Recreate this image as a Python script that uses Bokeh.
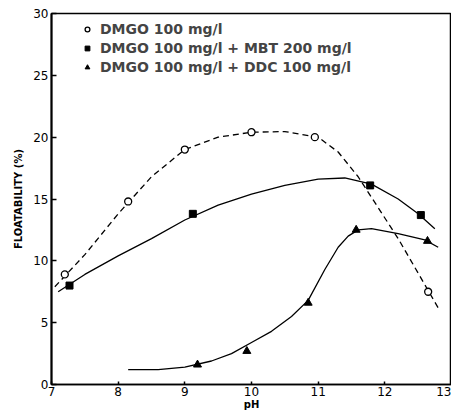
from bokeh.plotting import figure
from bokeh.models import Legend, LegendItem, Range1d, FixedTicker
from bokeh.embed import file_html
from bokeh.resources import INLINE

# measured points
ph_dmgo = [7.2, 8.15, 9.0, 10.0, 10.95, 12.65]
fl_dmgo = [8.9, 14.8, 19.0, 20.4, 20.0, 7.5]
ph_mbt = [7.27, 9.12, 11.78, 12.54]
fl_mbt = [8.0, 13.8, 16.1, 13.7]
ph_ddc = [9.19, 9.93, 10.85, 11.57, 12.64]
fl_ddc = [1.6, 2.7, 6.6, 12.5, 11.6]

# hand-drawn fitted curves
ph_dmgo_fit = [7.05, 7.5, 8.0, 8.5, 9.0, 9.5, 10.0, 10.5, 11.0, 11.3, 11.6, 11.9, 12.2, 12.5, 12.8]
fl_dmgo_fit = [7.9, 10.5, 13.8, 16.8, 19.0, 20.0, 20.4, 20.45, 20.0, 18.8, 16.8, 14.3, 11.8, 9.0, 6.2]
ph_mbt_fit = [7.1, 7.5, 8.0, 8.5, 9.0, 9.5, 10.0, 10.5, 11.0, 11.4, 11.8, 12.2, 12.5, 12.75]
fl_mbt_fit = [7.5, 8.9, 10.4, 11.8, 13.3, 14.5, 15.4, 16.1, 16.6, 16.7, 16.2, 15.0, 13.8, 12.6]
ph_ddc_fit = [8.15, 8.6, 9.0, 9.4, 9.7, 10.0, 10.3, 10.6, 10.85, 11.1, 11.3, 11.45, 11.6, 11.8, 12.2, 12.6, 12.8]
fl_ddc_fit = [1.2, 1.2, 1.4, 1.9, 2.5, 3.4, 4.3, 5.5, 6.8, 9.3, 11.1, 12.0, 12.5, 12.6, 12.2, 11.7, 11.1]

x_ticks = [7, 8, 9, 10, 11, 12, 13]
y_ticks = [0, 5, 10, 15, 20, 25, 30]
labels = ["DMGO 100 mg/l", "DMGO 100 mg/l + MBT 200 mg/l", "DMGO 100 mg/l + DDC 100 mg/l"]

FONT = "DejaVu Sans"

p = figure(frame_width=400, frame_height=371, output_backend="svg", toolbar_location=None,
           x_range=Range1d(7, 13), y_range=Range1d(0, 30),
           min_border_left=51, min_border_top=13, min_border_right=0, min_border_bottom=27)
p.background_fill_color = "white"
p.border_fill_color = "white"
p.grid.visible = False
p.outline_line_color = "black"
p.outline_line_width = 1.5

for ax in (p.xaxis[0], p.yaxis[0]):
    ax.major_tick_out = 0
    ax.minor_tick_line_color = None
    ax.axis_line_color = "black"
    ax.major_tick_line_color = "black"
    ax.major_tick_line_width = 1.5
    ax.major_label_text_font = FONT
    ax.major_label_text_font_size = "12px"
    ax.major_label_text_color = "black"
    ax.axis_label_text_font = FONT
    ax.axis_label_text_font_style = "bold"
    ax.axis_label_text_font_size = "10px"
    ax.axis_label_text_color = "black"

p.xaxis.ticker = FixedTicker(ticks=x_ticks)
p.yaxis.ticker = FixedTicker(ticks=y_ticks)
p.xaxis.axis_line_width = 1.5
p.yaxis.axis_line_width = 2
p.xaxis.major_tick_in = 3
p.yaxis.major_tick_in = 5
p.xaxis.axis_label = "pH"
p.yaxis.axis_label = "FLOATABILITY (%)"
p.xaxis.major_label_standoff = 2
p.xaxis.axis_label_standoff = 0
p.yaxis.major_label_standoff = 3
p.yaxis.axis_label_standoff = 6

p.line(ph_dmgo_fit, fl_dmgo_fit, line_color="black", line_width=1.3, line_dash="6 4")
p.line(ph_mbt_fit, fl_mbt_fit, line_color="black", line_width=1.3)
p.line(ph_ddc_fit, fl_ddc_fit, line_color="black", line_width=1.3)

r1 = p.scatter(ph_dmgo, fl_dmgo, marker="circle", size=7, fill_color="white", line_color="black", line_width=1.3)
r2 = p.scatter(ph_mbt, fl_mbt, marker="square", size=7, fill_color="black", line_color="black")
r3 = p.scatter(ph_ddc, fl_ddc, marker="triangle", size=8, fill_color="black", line_color="black")

legend = Legend(items=[LegendItem(label=labels[0], renderers=[r1]),
                       LegendItem(label=labels[1], renderers=[r2]),
                       LegendItem(label=labels[2], renderers=[r3])],
                location=(30, 308), padding=0, margin=0, spacing=0,
                glyph_width=12, glyph_height=12, label_height=19, label_standoff=7,
                label_text_font=FONT, label_text_font_size="14px", label_text_font_style="bold",
                border_line_color=None, background_fill_alpha=0)
p.add_layout(legend)

open("out.html", "w").write(file_html(p, INLINE))
